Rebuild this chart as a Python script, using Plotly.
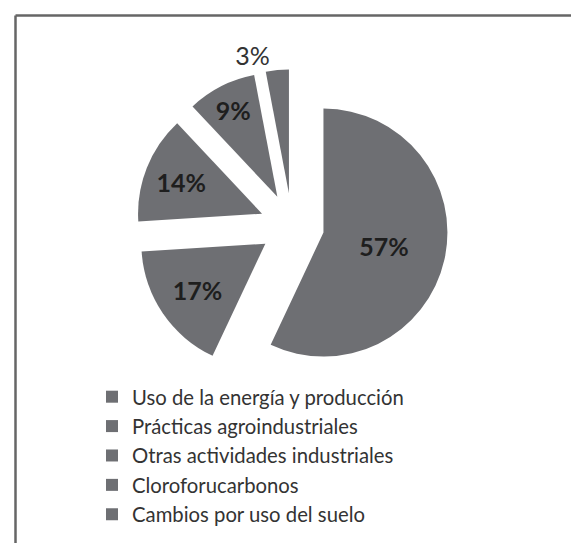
import plotly.graph_objects as go

labels = ["Uso de la energía y producción", "Prácticas agroindustriales",
          "Otras actividades industriales", "Cloroforucarbonos",
          "Cambios por uso del suelo"]
values = [57, 17, 14, 9, 3]

W, H = 579, 543
slice_color = "#6e6f73"

fig = go.Figure(go.Pie(
    labels=labels,
    values=values,
    sort=False,
    direction="clockwise",
    rotation=0,
    pull=[0.26] * 5,
    marker=dict(colors=[slice_color] * 5, line=dict(width=0)),
    texttemplate="%{value}%",
    textposition=["inside", "inside", "inside", "inside", "outside"],
    insidetextorientation="horizontal",
    textfont=dict(family="Lato", size=25, color="#1e1e1e", weight="bold"),
    outsidetextfont=dict(family="Lato", size=25, color="#333333", weight="normal"),
    hoverinfo="label+percent",
    domain=dict(x=[127.8 / W, 440.2 / W], y=[1 - 373.8 / H, 1 - 61.3 / H]),
))

fig.update_layout(
    width=W, height=H,
    margin=dict(l=0, r=0, t=0, b=0, pad=0, autoexpand=False),
    paper_bgcolor="white",
    plot_bgcolor="white",
    uniformtext=dict(minsize=25, mode="show"),
    legend=dict(
        xref="paper", yref="paper",
        x=84 / W, y=1 - 369 / H,
        xanchor="left", yanchor="top",
        font=dict(family="Lato", size=20.3, color="#333333"),
        bgcolor="rgba(0,0,0,0)",
        tracegroupgap=0,
    ),
    shapes=[
        dict(type="line", xref="paper", yref="paper",
             x0=7.5 / W, x1=1.0, y0=1 - 7.5 / H, y1=1 - 7.5 / H,
             line=dict(color="#666666", width=2.5)),
        dict(type="line", xref="paper", yref="paper",
             x0=7.5 / W, x1=7.5 / W, y0=1 - 7.5 / H, y1=0,
             line=dict(color="#666666", width=2.5)),
    ],
)

fig.write_html("out.html")
